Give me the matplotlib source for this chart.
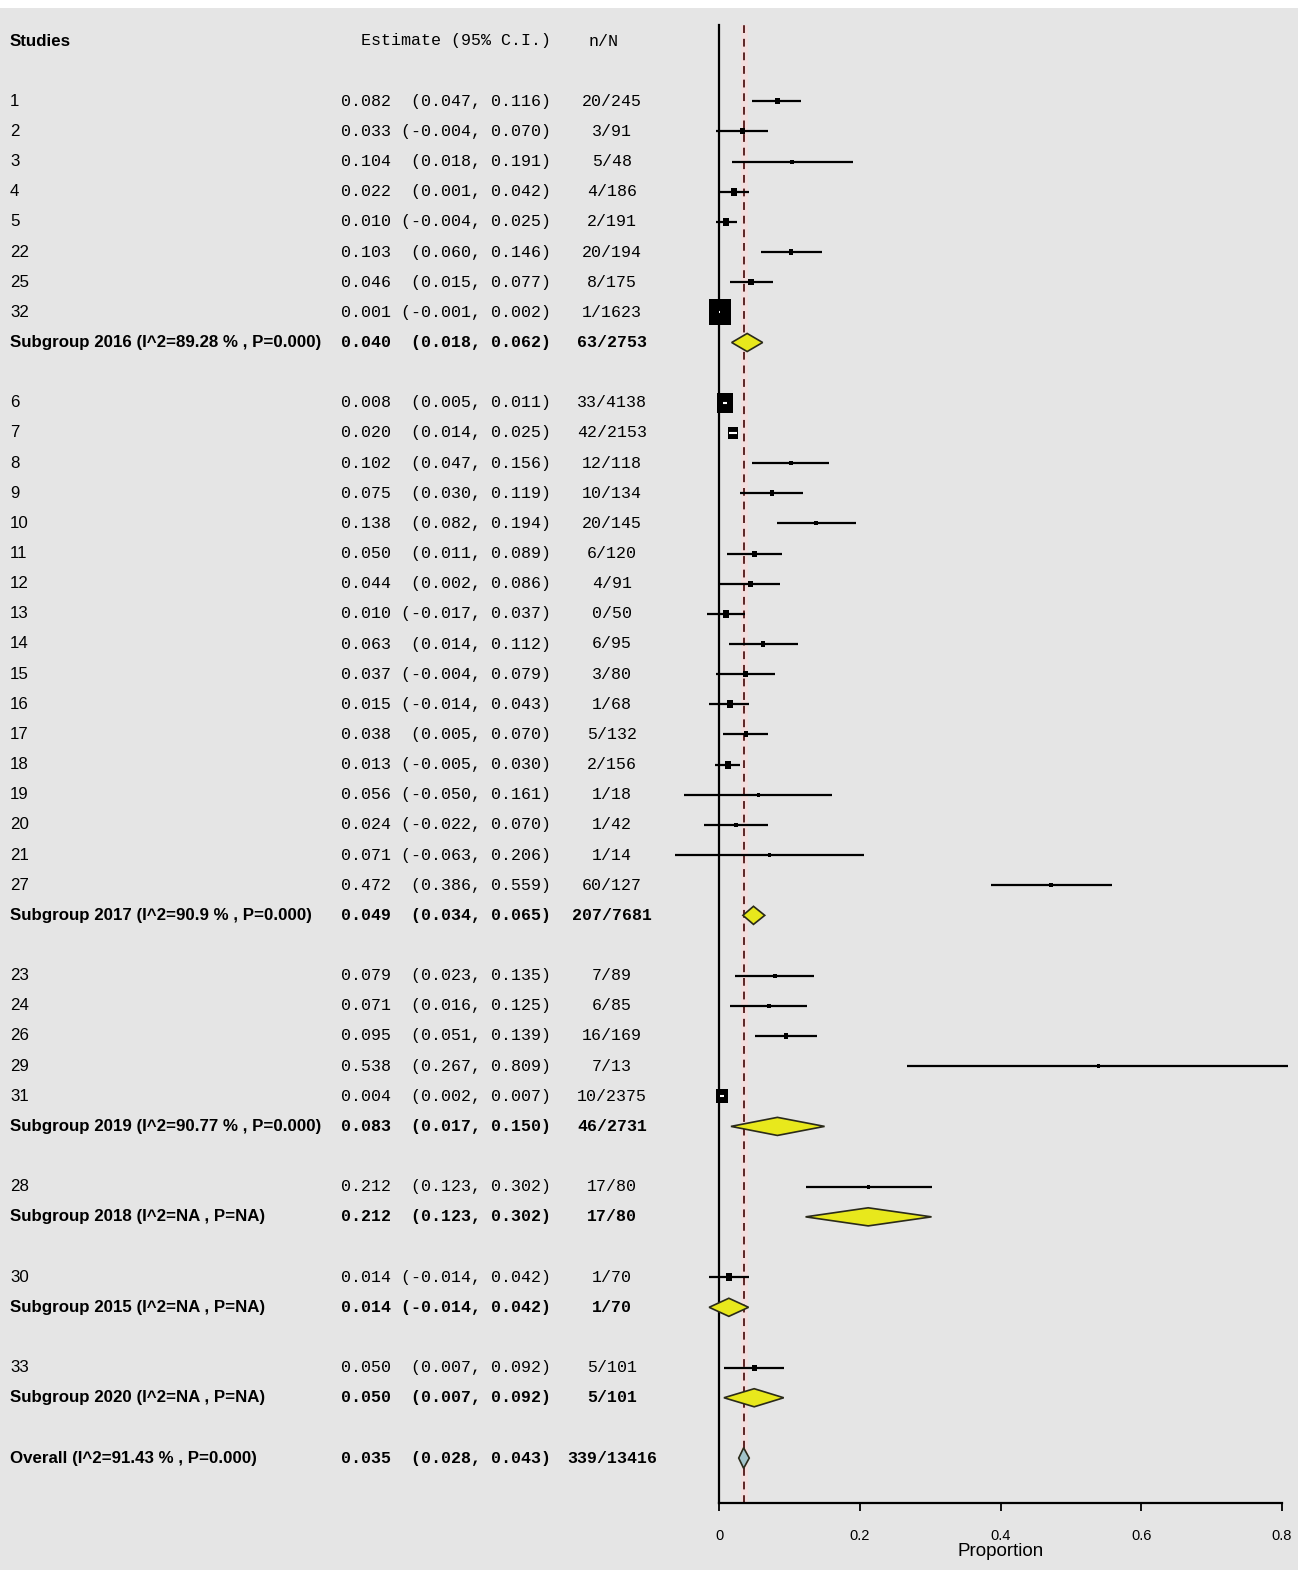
import matplotlib
matplotlib.use("Agg")
import matplotlib.pyplot as plt
from matplotlib import font_manager
from matplotlib.patches import Polygon, Rectangle
from matplotlib.transforms import blended_transform_factory

# --------------------------
# Data
# --------------------------
group_order = [2016, 2017, 2019, 2018, 2015, 2020]

study_ids = [1, 2, 3, 4, 5, 22, 25, 32,
             6, 7, 8, 9, 10, 11, 12, 13, 14, 15, 16, 17, 18, 19, 20, 21, 27,
             23, 24, 26, 29, 31,
             28,
             30,
             33]
study_group = [2016] * 8 + [2017] * 17 + [2019] * 5 + [2018] + [2015] + [2020]
study_est = [0.082, 0.033, 0.104, 0.022, 0.010, 0.103, 0.046, 0.001,
             0.008, 0.020, 0.102, 0.075, 0.138, 0.050, 0.044, 0.010, 0.063, 0.037, 0.015, 0.038, 0.013, 0.056, 0.024, 0.071, 0.472,
             0.079, 0.071, 0.095, 0.538, 0.004,
             0.212,
             0.014,
             0.050]
study_lo = [0.047, -0.004, 0.018, 0.001, -0.004, 0.060, 0.015, -0.001,
            0.005, 0.014, 0.047, 0.030, 0.082, 0.011, 0.002, -0.017, 0.014, -0.004, -0.014, 0.005, -0.005, -0.050, -0.022, -0.063, 0.386,
            0.023, 0.016, 0.051, 0.267, 0.002,
            0.123,
            -0.014,
            0.007]
study_hi = [0.116, 0.070, 0.191, 0.042, 0.025, 0.146, 0.077, 0.002,
            0.011, 0.025, 0.156, 0.119, 0.194, 0.089, 0.086, 0.037, 0.112, 0.079, 0.043, 0.070, 0.030, 0.161, 0.070, 0.206, 0.559,
            0.135, 0.125, 0.139, 0.809, 0.007,
            0.302,
            0.042,
            0.092]
study_n = [20, 3, 5, 4, 2, 20, 8, 1,
           33, 42, 12, 10, 20, 6, 4, 0, 6, 3, 1, 5, 2, 1, 1, 1, 60,
           7, 6, 16, 7, 10,
           17,
           1,
           5]
study_N = [245, 91, 48, 186, 191, 194, 175, 1623,
           4138, 2153, 118, 134, 145, 120, 91, 50, 95, 80, 68, 132, 156, 18, 42, 14, 127,
           89, 85, 169, 13, 2375,
           80,
           70,
           101]
# relative study weights
study_weight = [2.5, 2.5, 1.6, 4.2, 4.2, 2.0, 3.0, 48,
                26, 10, 1.6, 2.0, 1.6, 2.5, 2.5, 3.6, 2.0, 2.5, 4.9, 2.0, 4.9, 0.9, 1.6, 0.9, 1.6,
                1.6, 1.6, 2.0, 0.9, 14,
                0.9,
                3.6,
                2.5]

sub_i2 = ["89.28 %", "90.9 %", "90.77 %", "NA", "NA", "NA"]
sub_p = ["0.000", "0.000", "0.000", "NA", "NA", "NA"]
sub_est = [0.040, 0.049, 0.083, 0.212, 0.014, 0.050]
sub_lo = [0.018, 0.034, 0.017, 0.123, -0.014, 0.007]
sub_hi = [0.062, 0.065, 0.150, 0.302, 0.042, 0.092]
sub_n = [63, 207, 46, 17, 1, 5]
sub_N = [2753, 7681, 2731, 80, 70, 101]

overall_i2 = "91.43 %"
overall_p = "0.000"
overall_est = 0.035
overall_lo = 0.028
overall_hi = 0.043
overall_n = 339
overall_N = 13416

# --------------------------
# Fonts
# --------------------------
available = {f.name for f in font_manager.fontManager.ttflist}
if "Liberation Sans Narrow" in available:
    label_font = "Liberation Sans Narrow"
    label_size = 15
else:
    label_font = "Liberation Sans"
    label_size = 12.2
mono_font = "Liberation Mono"
mono_size = 12

bg = "#e5e5e5"
W, H = 1298, 1570

fig = plt.figure(figsize=(W / 100, H / 100), dpi=100, facecolor=bg)
fig.patches.append(Rectangle((0, 1 - 8 / H), 1, 8 / H, transform=fig.transFigure,
                             facecolor="white", edgecolor="none", zorder=0))

# plot area: x=0 at px 719, x=0.8 at px 1282; rows 30.15 px apart, row 0 at px 41
x0_px, x1_px = 719, 1282
top_px, base_px = 25, 1503
row0_px, row_h = 41, 30.15
ax = fig.add_axes([x0_px / W, 1 - base_px / H, (x1_px - x0_px) / W, (base_px - top_px) / H])
ax.set_facecolor(bg)
ax.set_xlim(0, 0.8)
ax.set_ylim((base_px - row0_px) / row_h, (top_px - row0_px) / row_h)
px_x = 0.8 / (x1_px - x0_px)   # data units per pixel in x

for s in ["top", "right"]:
    ax.spines[s].set_visible(False)
ax.spines["left"].set_linewidth(1.6)
ax.spines["bottom"].set_linewidth(1.6)
ax.set_yticks([])
ax.set_xticks([0, 0.2, 0.4, 0.6, 0.8])
ax.set_xticklabels(["0", "0.2", "0.4", "0.6", "0.8"], fontfamily=label_font, fontsize=10.5)
ax.tick_params(axis="x", direction="out", length=6, width=1.3, pad=13)
ax.set_xlabel("Proportion", fontfamily=label_font, fontsize=13.5, labelpad=0)

# reference line at overall estimate
ax.axvline(overall_est, color="#f3dede", lw=5, zorder=1)
ax.axvline(overall_est, color="#5b2323", lw=1.4, ls=(0, (4, 3)), zorder=1.5)

tr = blended_transform_factory(fig.transFigure, ax.transData)


def row_text(y, label, est, lo, hi, n, N, bold=False):
    wt = "bold" if bold else "normal"
    ax.text(10 / W, y, label, transform=tr, ha="left", va="center",
            fontfamily=label_font, fontsize=label_size, fontweight=wt)
    ci = f"{est:.3f} " + f"({lo:.3f},".rjust(8) + f" {hi:.3f})"
    ax.text(551 / W, y, ci, transform=tr, ha="right", va="center",
            fontfamily=mono_font, fontsize=mono_size, fontweight=wt)
    ax.text(612 / W, y, f"{n}/{N}", transform=tr, ha="center", va="center",
            fontfamily=mono_font, fontsize=mono_size, fontweight=wt)


def diamond(y, est, lo, hi, half_h, color):
    ax.add_patch(Polygon([(lo, y), (est, y - half_h), (hi, y), (est, y + half_h)],
                         closed=True, facecolor=color, edgecolor="#2a2a1a",
                         lw=1.2, zorder=3, clip_on=False))


# header
ax.text(10 / W, 0, "Studies", transform=tr, ha="left", va="center",
        fontfamily=label_font, fontsize=label_size, fontweight="bold")
ax.text(551 / W, 0, "Estimate (95% C.I.)", transform=tr, ha="right", va="center",
        fontfamily=mono_font, fontsize=mono_size)
ax.text(604 / W, 0, "n/N", transform=tr, ha="center", va="center",
        fontfamily=mono_font, fontsize=mono_size)

box_verts = [(-1, -1.2), (1, -1.2), (1, 1.2), (-1, 1.2), (-1, -1.2)]

row = 2
for g_i, g in enumerate(group_order):
    for i in range(len(study_ids)):
        if study_group[i] != g:
            continue
        est, lo, hi = study_est[i], study_lo[i], study_hi[i]
        row_text(row, str(study_ids[i]), est, lo, hi, study_n[i], study_N[i])
        ax.plot([lo, hi], [row, row], color="black", lw=1.6, zorder=2,
                solid_capstyle="butt", clip_on=False)
        side_px = (study_weight[i] * 10) ** 0.5
        ax.plot(est, row, marker=box_verts, ms=side_px * 1.2 * 0.72,
                color="black", mew=0, zorder=3, clip_on=False)
        # CI drawn in white when it sits inside a large box
        if side_px / 2 * px_x > (hi - lo) / 2:
            ax.plot([lo, hi], [row, row], color="white", lw=1.5, zorder=4,
                    solid_capstyle="butt")
        row += 1
    label = f"Subgroup {g} (I^2={sub_i2[g_i]} , P={sub_p[g_i]})"
    row_text(row, label, sub_est[g_i], sub_lo[g_i], sub_hi[g_i],
             sub_n[g_i], sub_N[g_i], bold=True)
    diamond(row, sub_est[g_i], sub_lo[g_i], sub_hi[g_i], 0.3, "#e8e81c")
    row += 2

row_text(row, f"Overall (I^2={overall_i2} , P={overall_p})", overall_est,
         overall_lo, overall_hi, overall_n, overall_N, bold=True)
diamond(row, overall_est, overall_lo, overall_hi, 0.34, "#a3c3c9")

fig.savefig("out.png", dpi=100, facecolor=bg)
